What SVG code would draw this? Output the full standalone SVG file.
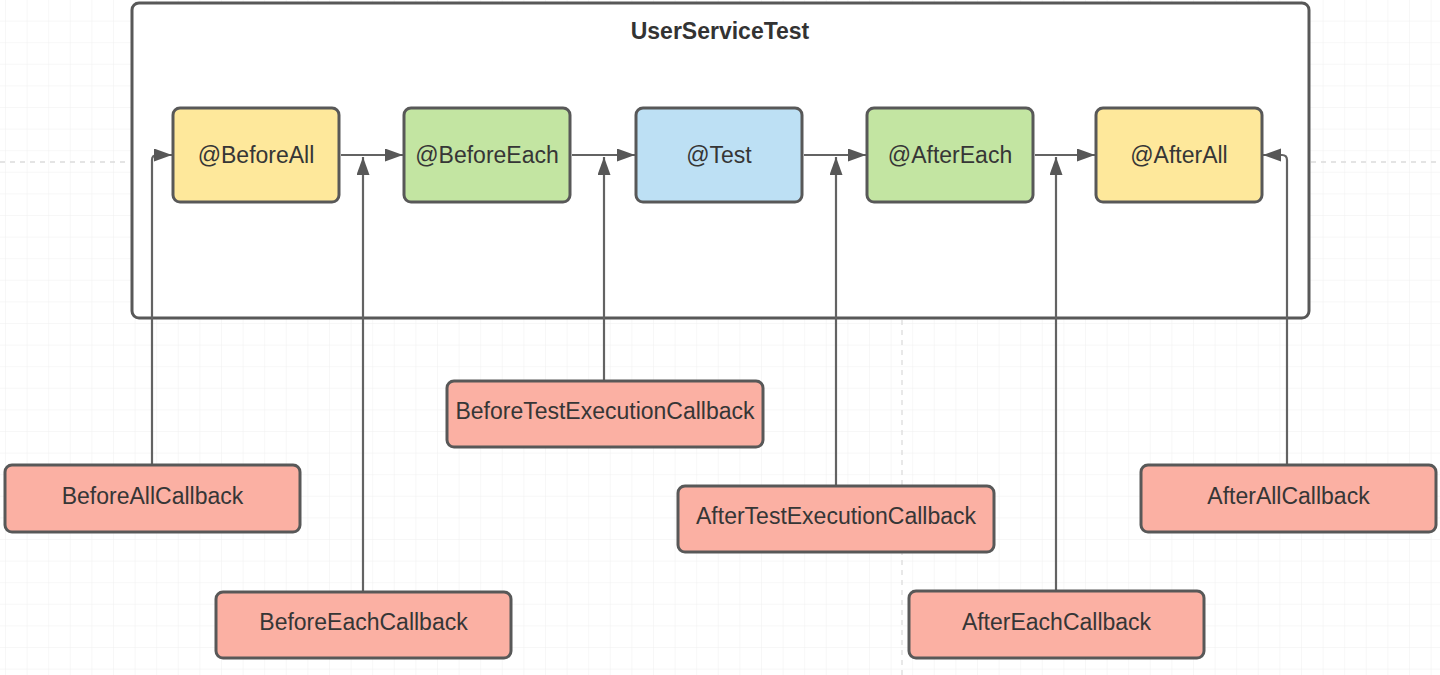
<svg xmlns="http://www.w3.org/2000/svg" width="1440" height="675" viewBox="0 0 1440 675">
  <style>
    .bg { fill: #ffffff; }
    .container { fill: #ffffff; stroke: #585858; stroke-width: 3; }
    .node { stroke: #585858; stroke-width: 3; }
    .yellow { fill: #fee89b; }
    .green { fill: #c3e5a2; }
    .blue { fill: #bde0f4; }
    .pink { fill: #fbb0a3; }
    .lbl { font-family: "Liberation Sans", Arial, sans-serif; font-size: 23px; fill: #363636; text-anchor: middle; }
    .title { font-family: "Liberation Sans", Arial, sans-serif; font-size: 23px; font-weight: bold; fill: #333333; text-anchor: middle; }
    .conn { fill: none; stroke: #636363; stroke-width: 2.2; marker-end: url(#arrow); }
    .dash { fill: none; stroke: #dcdcdc; stroke-width: 1.3; stroke-dasharray: 5 5; }
  </style>
  <defs>
    <pattern id="grid" patternUnits="userSpaceOnUse" x="5" y="-1" width="21.6" height="21.6">
      <path d="M0 0 H21.6 M0 0 V21.6" fill="none" stroke="#efefef" stroke-width="1"/>
    </pattern>
    <marker id="arrow" markerUnits="userSpaceOnUse" markerWidth="18" markerHeight="14" refX="18" refY="6.5" orient="auto">
      <path d="M0,0 L18,6.5 L0,13 z" fill="#575757"/>
    </marker>
  </defs>

  <rect class="bg" x="0" y="0" width="1440" height="675"/>
  <rect x="0" y="0" width="1440" height="675" fill="url(#grid)"/>
  <path class="dash" d="M0 162 H130 M1311 162 H1440 M902 320 V675"/>

  <g id="container">
    <rect class="container" x="132" y="3" width="1177" height="315" rx="7"/>
    <text class="title" x="720" y="39">UserServiceTest</text>
  </g>

  <g id="connectors">
    <path class="conn" d="M341 155 H403"/>
    <path class="conn" d="M572 155 H635"/>
    <path class="conn" d="M804 155 H866"/>
    <path class="conn" d="M1035 155 H1095"/>
    <path class="conn" d="M152 465 V160 Q152 155 157 155 H172"/>
    <path class="conn" d="M363 592 V157"/>
    <path class="conn" d="M604 381 V157"/>
    <path class="conn" d="M836 486 V157"/>
    <path class="conn" d="M1056 591 V157"/>
    <path class="conn" d="M1287 465 V160 Q1287 155 1282 155 H1263"/>
  </g>

  <g id="beforeAll">
    <rect class="node yellow" x="173" y="108" width="166" height="94" rx="7"/>
    <text class="lbl" x="256" y="163">@BeforeAll</text>
  </g>
  <g id="beforeEach">
    <rect class="node green" x="404" y="108" width="166" height="94" rx="7"/>
    <text class="lbl" x="487" y="163">@BeforeEach</text>
  </g>
  <g id="test">
    <rect class="node blue" x="636" y="108" width="166" height="94" rx="7"/>
    <text class="lbl" x="719" y="163">@Test</text>
  </g>
  <g id="afterEach">
    <rect class="node green" x="867" y="108" width="166" height="94" rx="7"/>
    <text class="lbl" x="950" y="163">@AfterEach</text>
  </g>
  <g id="afterAll">
    <rect class="node yellow" x="1096" y="108" width="166" height="94" rx="7"/>
    <text class="lbl" x="1179" y="163">@AfterAll</text>
  </g>

  <g id="beforeAllCallback">
    <rect class="node pink" x="5" y="465" width="295" height="67" rx="7"/>
    <text class="lbl" x="152.5" y="504">BeforeAllCallback</text>
  </g>
  <g id="beforeEachCallback">
    <rect class="node pink" x="216" y="592" width="295" height="66" rx="7"/>
    <text class="lbl" x="363.5" y="630">BeforeEachCallback</text>
  </g>
  <g id="beforeTestExecutionCallback">
    <rect class="node pink" x="447" y="381" width="316" height="66" rx="7"/>
    <text class="lbl" x="605" y="419">BeforeTestExecutionCallback</text>
  </g>
  <g id="afterTestExecutionCallback">
    <rect class="node pink" x="678" y="486" width="316" height="66" rx="7"/>
    <text class="lbl" x="836" y="524">AfterTestExecutionCallback</text>
  </g>
  <g id="afterEachCallback">
    <rect class="node pink" x="909" y="591" width="295" height="67" rx="7"/>
    <text class="lbl" x="1056.5" y="630">AfterEachCallback</text>
  </g>
  <g id="afterAllCallback">
    <rect class="node pink" x="1141" y="465" width="295" height="67" rx="7"/>
    <text class="lbl" x="1288.5" y="504">AfterAllCallback</text>
  </g>
</svg>
